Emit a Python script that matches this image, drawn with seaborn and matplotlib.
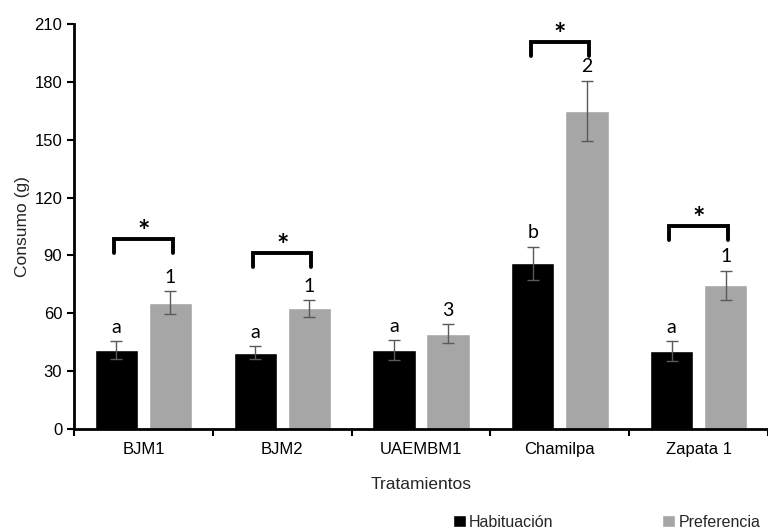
import pandas as pd
import numpy as np
import matplotlib
matplotlib.use("Agg")
import matplotlib.pyplot as plt
import seaborn as sns
from matplotlib.patches import Patch
from matplotlib.container import BarContainer

# values
tratamientos = ["BJM1", "BJM2", "UAEMBM1", "Chamilpa", "Zapata 1"]
habituacion = [41, 39.5, 41, 86, 40.5]
habituacion_err = [4.5, 3.3, 5.0, 8.5, 5.0]
preferencia = [65.5, 62.5, 49.5, 165, 74.5]
preferencia_err = [6.0, 4.3, 4.7, 15.5, 7.5]
letras = ["a", "a", "a", "b", "a"]
numeros = ["1", "1", "3", "2", "1"]
# significance brackets (top of bracket, None = no bracket)
corchete_y = [98.5, 91, None, 200.5, 105]

sns.set_theme(style="white")
plt.rcParams['font.family'] = ['Liberation Sans', 'DejaVu Sans']

df = pd.DataFrame({
    "Tratamiento": tratamientos * 2,
    "Consumo": habituacion + preferencia,
    "Fase": ["Habituación"] * 5 + ["Preferencia"] * 5,
})
colores = {"Habituación": "#000000", "Preferencia": "#A6A6A6"}

fig = plt.figure(figsize=(7.68, 5.32), dpi=100)
ax = fig.add_axes([0.0964, 0.1936, 0.9036, 0.7614])

sns.barplot(data=df, x="Tratamiento", y="Consumo", hue="Fase", palette=colores,
            order=tratamientos, width=0.78, gap=0.2, errorbar=None,
            saturation=1, legend=False, ax=ax)

errs = [habituacion_err, preferencia_err]
etiquetas = [letras, numeros]
barras = [c for c in ax.containers if isinstance(c, BarContainer)]
for k, cont in enumerate(barras):
    for i, bar in enumerate(cont.patches):
        xc = bar.get_x() + bar.get_width() / 2
        top = bar.get_height()
        ax.errorbar(xc, top, yerr=errs[k][i], color="#595959", lw=1,
                    capsize=4, capthick=1)
        ax.annotate(etiquetas[k][i], (xc, top + errs[k][i]), xytext=(0, 4),
                    textcoords="offset points", ha="center", va="bottom",
                    fontsize=14, family=["Lato", "DejaVu Sans"], color="black")

for i, yb in enumerate(corchete_y):
    if yb is None:
        continue
    x0, x1 = i - 0.21, i + 0.21
    ax.plot([x0, x0, x1, x1], [yb - 7, yb, yb, yb - 7], color="black", lw=2.8,
            solid_joinstyle="miter", clip_on=False)
    ax.text(i, yb - 0.5, "*", ha="center", va="baseline", fontsize=21,
            fontweight="bold", family=["Lato", "DejaVu Sans"], color="black")

ax.set_xlim(-0.5, 4.5)
ax.set_ylim(0, 210)
ax.set_yticks(np.arange(0, 211, 30))
ax.set_xticks(range(5))
ax.set_xticks(np.arange(-0.5, 4.6, 1), minor=True)
ax.tick_params(axis="x", which="major", length=0, labelsize=12, pad=9, colors="black")
ax.tick_params(axis="x", which="minor", length=5, width=1.5, direction="out", colors="black", bottom=True)
ax.tick_params(axis="y", length=5, width=1.5, direction="out", left=True, labelsize=12, colors="black")

for s in ["top", "right"]:
    ax.spines[s].set_visible(False)
for s in ["left", "bottom"]:
    ax.spines[s].set_color("black")
    ax.spines[s].set_linewidth(2)

ax.set_xlabel("Tratamientos", fontsize=12.5, labelpad=15)
ax.set_ylabel("Consumo (g)", fontsize=12.5, labelpad=3)

handles = [Patch(facecolor=colores["Habituación"], label="Habituación"),
           Patch(facecolor=colores["Preferencia"], label="Preferencia")]
fig.legend(handles=handles, loc="center", bbox_to_anchor=(0.79, 0.018), ncol=2,
           frameon=False, fontsize=11.5, handlelength=0.8, handleheight=0.8,
           handletextpad=0.2, columnspacing=6.8)

fig.savefig("out.png", dpi=100)
